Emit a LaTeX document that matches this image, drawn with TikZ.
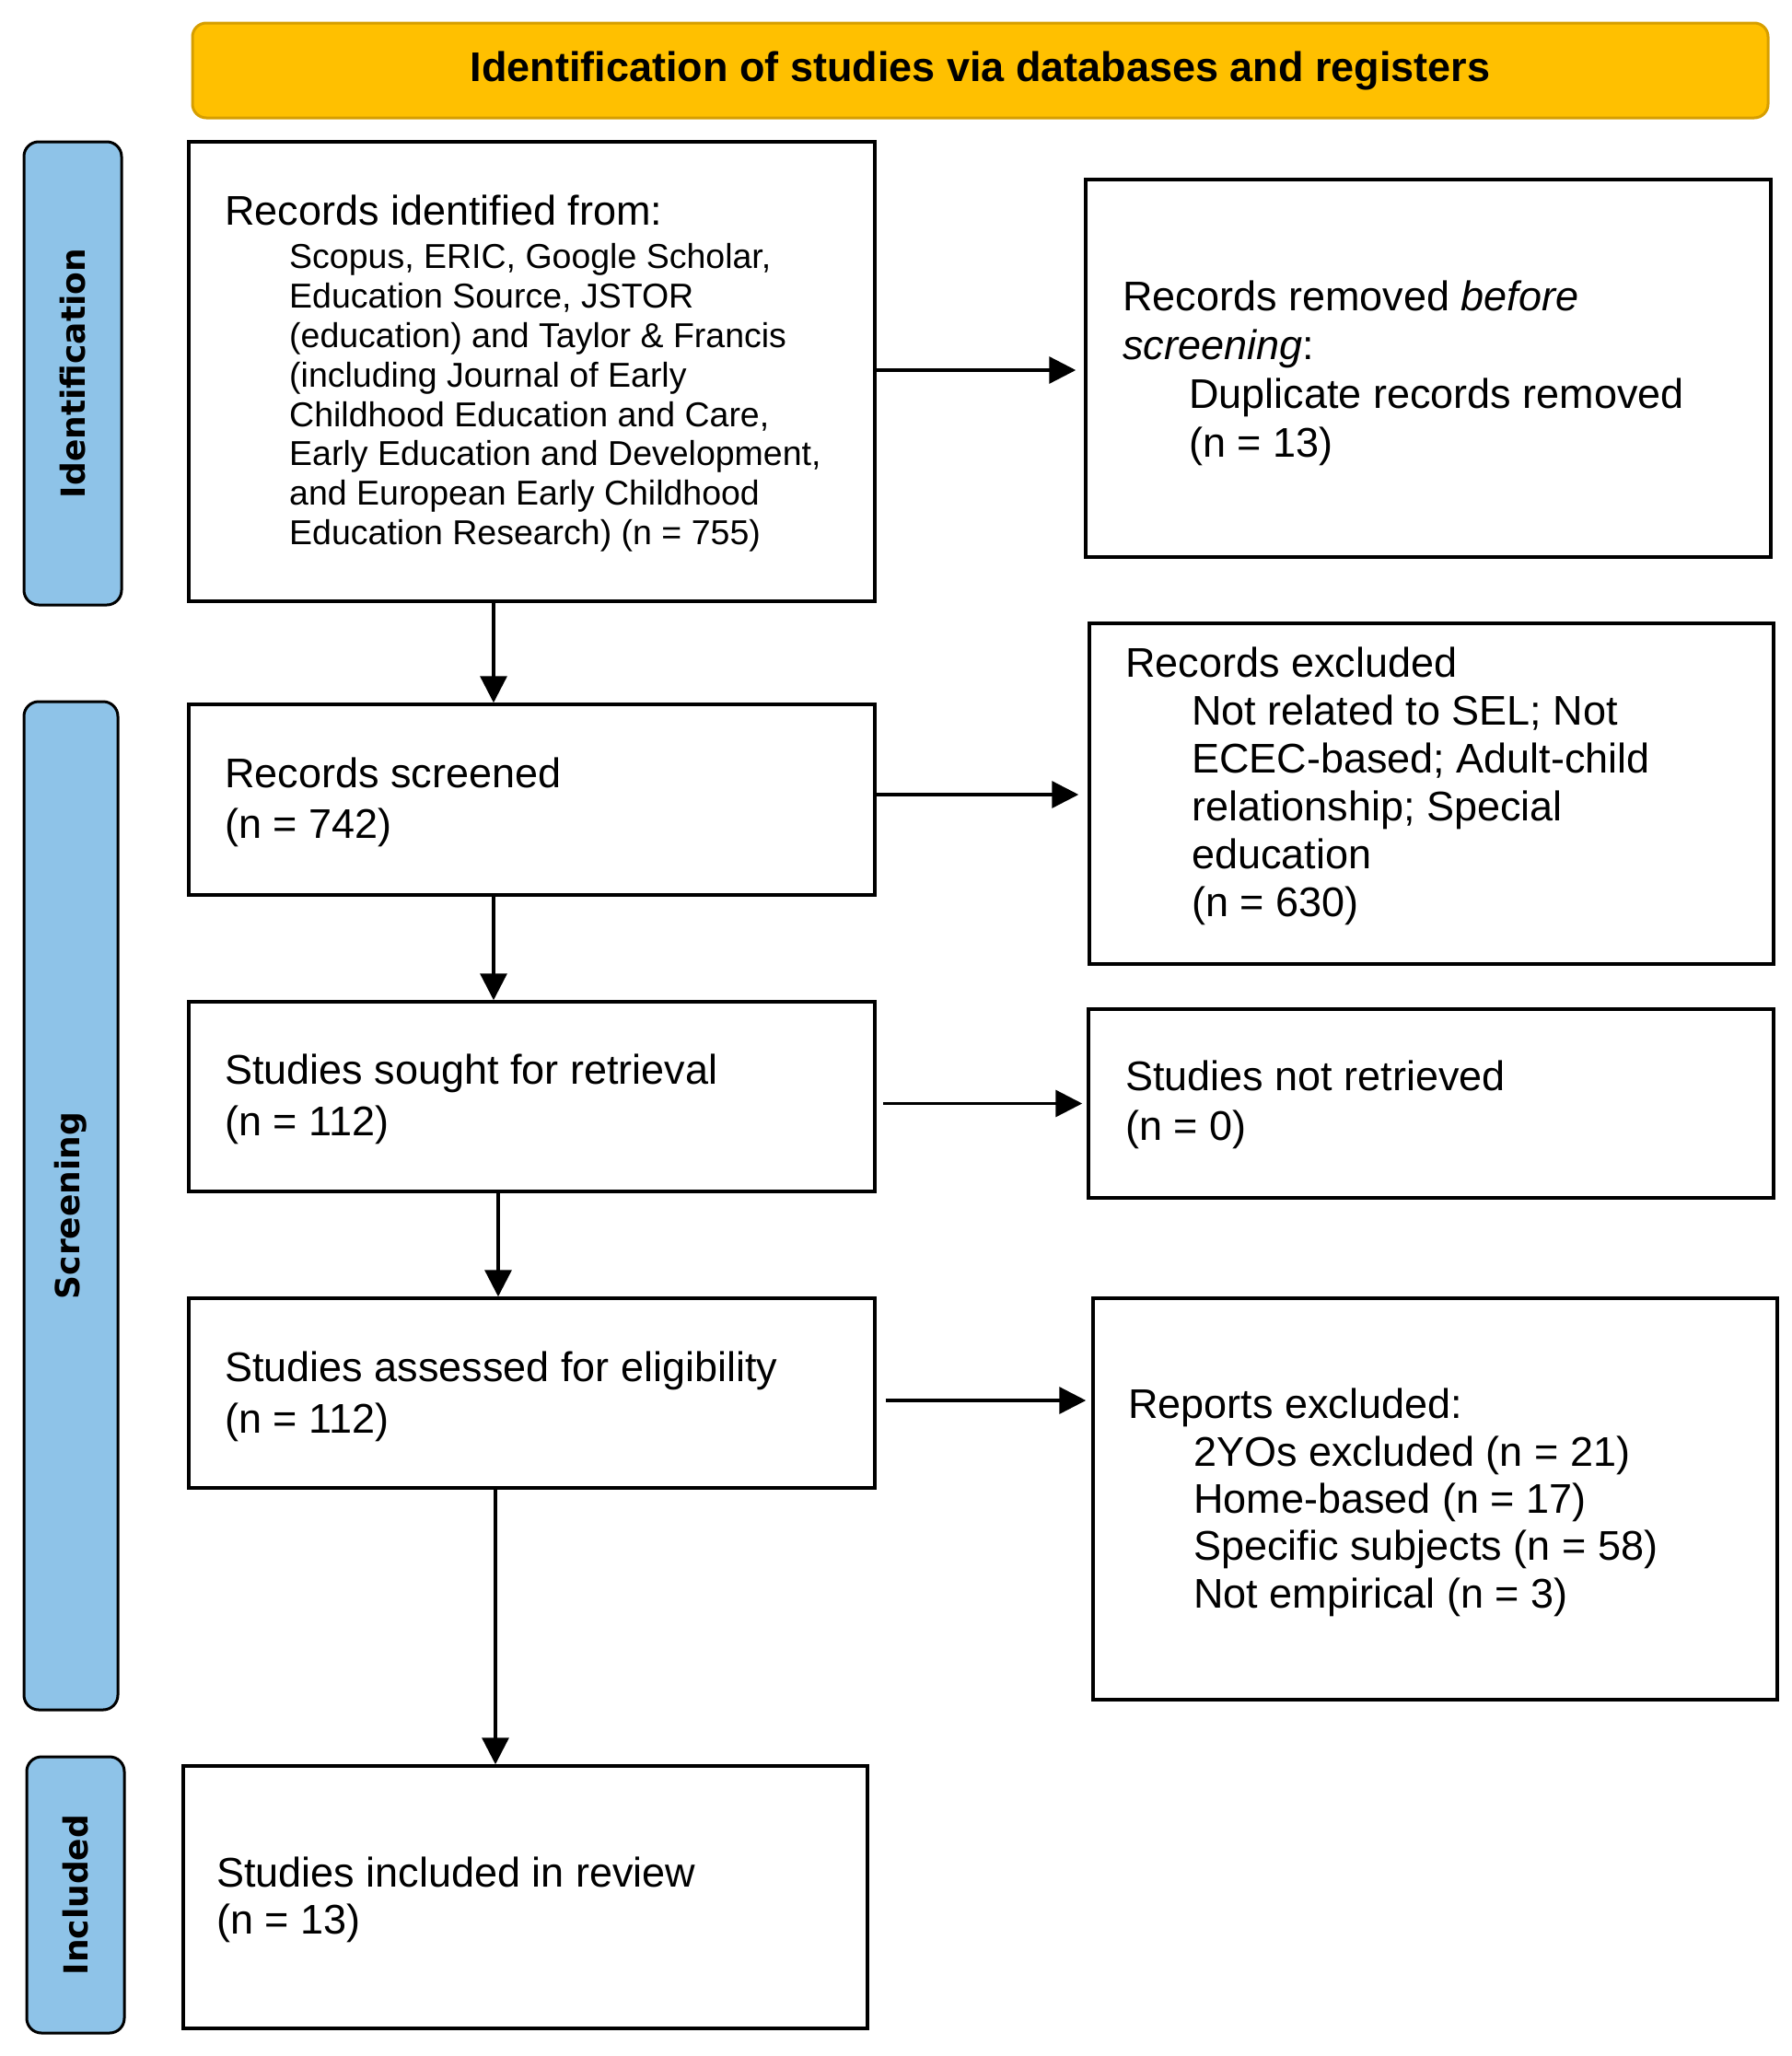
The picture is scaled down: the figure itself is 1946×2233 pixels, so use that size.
\documentclass[tikz,border=0pt]{standalone}
\usepackage{fontspec}
\setmainfont{Liberation Sans}
\newfontfamily\barfont{DejaVu Sans}
\usetikzlibrary{arrows.meta}
\definecolor{bannerfill}{RGB}{255,192,0}
\definecolor{bannerline}{RGB}{214,158,0}
\definecolor{barfill}{RGB}{142,195,232}
\begin{document}
\begin{tikzpicture}[x=1pt,y=-1pt,
  box/.style={draw=black, line width=3.5pt, rectangle, inner sep=0pt},
  banner/.style={draw=bannerline, fill=bannerfill, line width=3pt, rounded corners=15pt, inner sep=0pt, font=\bfseries\fontsize{45}{54}\selectfont},
  bar/.style={draw=black, fill=barfill, line width=3pt, rounded corners=16pt, inner sep=0pt},
  barlabel/.style={rotate=90, font=\barfont\bfseries\fontsize{36}{40}\selectfont, inner sep=0pt},
  txt/.style={anchor=base west, inner sep=0pt, font=\fontsize{45}{54}\selectfont},
  small/.style={anchor=base west, inner sep=0pt, font=\fontsize{37.5}{43}\selectfont},
  arr/.style={line width=3.3pt, -{Triangle[length=29pt,width=29pt]}}]
\useasboundingbox (0,0) rectangle (1946,2233);

% banner
\node[banner, minimum width=1711pt, minimum height=103pt] (ban) at (1064.5,76.5) {Identification of studies via databases and registers};

% side bars
\node[bar, minimum width=106pt, minimum height=503pt] (barI) at (79,405.5) {};
\node[barlabel] (labI) at (barI) {Identification};
\node[bar, minimum width=102pt, minimum height=1095pt] (barS) at (77,1309.5) {};
\node[barlabel] (labS) at (barS) {Screening};
\node[bar, minimum width=106pt, minimum height=300pt] (barC) at (82,2058) {};
\node[barlabel] (labC) at (barC) {Included};

% boxes
\node[box, minimum width=745pt, minimum height=499pt] (ident) at (577.5,403.5) {};
\node[box, minimum width=744pt, minimum height=410pt] (removed) at (1551,400) {};
\node[box, minimum width=745pt, minimum height=207pt] (screened) at (577.5,868.5) {};
\node[box, minimum width=743pt, minimum height=370pt] (excluded) at (1554.5,862) {};
\node[box, minimum width=745pt, minimum height=206pt] (sought) at (577.5,1191) {};
\node[box, minimum width=744pt, minimum height=205pt] (notret) at (1554,1198.5) {};
\node[box, minimum width=745pt, minimum height=206pt] (assessed) at (577.5,1513) {};
\node[box, minimum width=743pt, minimum height=436pt] (reports) at (1558.5,1628) {};
\node[box, minimum width=743pt, minimum height=285pt] (included) at (570.5,2060.5) {};

% texts: identified
\node[txt] (t1) at (244,244) {Records identified from:};
\node[small] (t1a) at (314,291) {Scopus, ERIC, Google Scholar,};
\node[small] (t1b) at (314,334) {Education Source, JSTOR};
\node[small] (t1c) at (314,377) {(education) and Taylor \& Francis};
\node[small] (t1d) at (314,420) {(including Journal of Early};
\node[small] (t1e) at (314,463) {Childhood Education and Care,};
\node[small] (t1f) at (314,505) {Early Education and Development,};
\node[small] (t1g) at (314,548) {and European Early Childhood};
\node[small] (t1h) at (314,591) {Education Research) (n = 755)};

% removed
\node[txt] (t2) at (1219,337) {Records removed \textit{before}};
\node[txt] (t2a) at (1219,390) {\textit{screening}:};
\node[txt] (t2b) at (1291,443) {Duplicate records removed};
\node[txt] (t2c) at (1291,496) {(n = 13)};

% screened
\node[txt] (t3) at (244,855) {Records screened};
\node[txt] (t3a) at (244,910) {(n = 742)};

% excluded
\node[txt] (t4) at (1222,735) {Records excluded};
\node[txt] (t4a) at (1294,787) {Not related to SEL; Not};
\node[txt] (t4b) at (1294,839) {ECEC-based; Adult-child};
\node[txt] (t4c) at (1294,891) {relationship; Special};
\node[txt] (t4d) at (1294,943) {education};
\node[txt] (t4e) at (1294,995) {(n = 630)};

% sought
\node[txt] (t5) at (244,1177) {Studies sought for retrieval};
\node[txt] (t5a) at (244,1233) {(n = 112)};

% not retrieved
\node[txt] (t6) at (1222,1184) {Studies not retrieved};
\node[txt] (t6a) at (1222,1238) {(n = 0)};

% assessed
\node[txt] (t7) at (244,1500) {Studies assessed for eligibility};
\node[txt] (t7a) at (244,1556) {(n = 112)};

% reports
\node[txt] (t8) at (1225,1540) {Reports excluded:};
\node[txt] (t8a) at (1296,1592) {2YOs excluded (n = 21)};
\node[txt] (t8b) at (1296,1643) {Home-based (n = 17)};
\node[txt] (t8c) at (1296,1694) {Specific subjects (n = 58)};
\node[txt] (t8d) at (1296,1746) {Not empirical (n = 3)};

% included
\node[txt] (t9) at (235,2049) {Studies included in review};
\node[txt] (t9a) at (235,2100) {(n = 13)};

% vertical arrows
\draw[arr] ([xshift=-41.5pt]ident.south) -- ([xshift=-41.5pt]ident.south |- screened.north);
\draw[arr] ([xshift=-41.5pt]screened.south) -- ([xshift=-41.5pt]screened.south |- sought.north);
\draw[arr] ([xshift=-36.5pt]sought.south) -- ([xshift=-36.5pt]sought.south |- assessed.north);
\draw[arr] ([xshift=-39.5pt]assessed.south) -- ([xshift=-39.5pt]assessed.south |- included.north);

% horizontal arrows
\draw[arr, shorten >=9pt] ([yshift=1.5pt]ident.east) -- ([yshift=1.5pt]ident.east -| removed.west);
\draw[arr, shorten >=10pt] ([yshift=5.5pt]screened.east) -- ([yshift=5.5pt]screened.east -| excluded.west);
\draw[arr, shorten <=7pt, shorten >=5pt] (sought.east |- notret.west) -- (notret.west);
\draw[arr, shorten <=10pt, shorten >=6pt] ([yshift=-8pt]assessed.east) -- ([yshift=-8pt]assessed.east -| reports.west);
\end{tikzpicture}
\end{document}
